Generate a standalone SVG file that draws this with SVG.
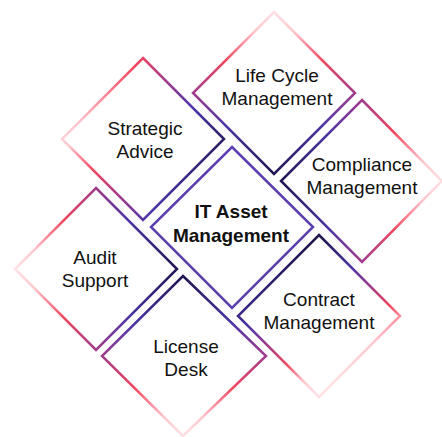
<svg xmlns="http://www.w3.org/2000/svg" width="442" height="437" viewBox="0 0 442 437">
<defs>
<linearGradient id="gS"><stop offset="0" stop-color="#ffe0e5"/><stop offset="0.12" stop-color="#ffc6ce"/><stop offset="0.3" stop-color="#f0475f"/><stop offset="0.5" stop-color="#a03d8c"/><stop offset="0.7" stop-color="#4d35a6"/><stop offset="1" stop-color="#231552"/></linearGradient>
<linearGradient id="gTL" href="#gS" x1="0" y1="0.3" x2="1" y2="0.7"/>
<linearGradient id="gT" href="#gS" x1="0.5" y1="0" x2="0.5" y2="1"/>
<linearGradient id="gR" href="#gS" x1="1" y1="0.5" x2="0" y2="0.5"/>
<linearGradient id="gBR" href="#gS" x1="0.7" y1="0.85" x2="0.3" y2="0.15"/>
<linearGradient id="gB" href="#gS" x1="0.5" y1="1" x2="0.5" y2="0"/>
<linearGradient id="gL" href="#gS" x1="0" y1="0.5" x2="1" y2="0.5"/>
</defs>
<style>
.d{fill:#fff;stroke-width:2.5;stroke-linejoin:miter}
.t{font-family:"Liberation Sans",Arial,sans-serif;font-size:19px;fill:#111;text-anchor:middle}
.b{font-weight:bold}
</style>
<rect width="442" height="437" fill="#fff"/>
<g id="connectors"></g>
<g id="life-cycle">
<polygon class="d" stroke="url(#gT)" points="274,12 355,93 274,174 193,93"/>
<text class="t" x="277" y="82">Life Cycle</text><text class="t" x="277" y="105">Management</text>
</g>
<g id="strategic-advice">
<polygon class="d" stroke="url(#gTL)" points="143,58 224,139 143,220 62,139"/>
<text class="t" x="145" y="135">Strategic</text><text class="t" x="145" y="158">Advice</text>
</g>
<g id="compliance">
<polygon class="d" stroke="url(#gR)" points="362,100 442,181 362,262 281,181"/>
<text class="t" x="362" y="171">Compliance</text><text class="t" x="362" y="194">Management</text>
</g>
<g id="it-asset">
<polygon class="d" stroke="#5b3fae" points="232,147 313,227 232,308 151,227"/>
<text class="t b" x="231" y="218">IT Asset</text><text class="t b" x="231" y="242">Management</text>
</g>
<g id="audit-support">
<polygon class="d" stroke="url(#gL)" points="96,188 177,269 96,350 15,269"/>
<text class="t" x="95" y="264">Audit</text><text class="t" x="95" y="287">Support</text>
</g>
<g id="license-desk">
<polygon class="d" stroke="url(#gB)" points="183,276 266,356 183,436 102,356"/>
<text class="t" x="186" y="353">License</text><text class="t" x="186" y="376">Desk</text>
</g>
<g id="contract">
<polygon class="d" stroke="url(#gBR)" points="319,235 400,316 319,397 238,316"/>
<text class="t" x="319" y="306">Contract</text><text class="t" x="319" y="329">Management</text>
</g>
</svg>
